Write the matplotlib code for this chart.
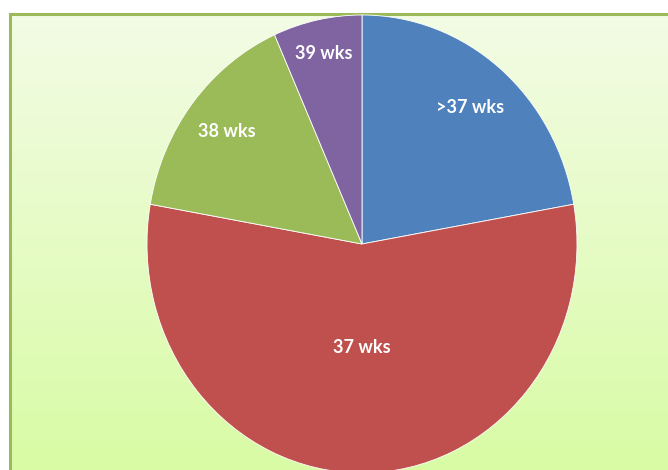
import matplotlib
matplotlib.use("Agg")
import matplotlib.pyplot as plt
import numpy as np
from matplotlib.colors import LinearSegmentedColormap

labels = [">37 wks", "37 wks", "38 wks", "39 wks"]
counts = [10, 25, 7, 3]
colors = ["#4F81BD", "#C0504D", "#9BBB59", "#8064A2"]
label_r = [0.78, 0.45, 0.80, 0.85]

W, H = 668, 470
fig = plt.figure(figsize=(W / 100, H / 100), dpi=100)
fig.patch.set_facecolor("white")

# background panel with vertical gradient
bg = fig.add_axes([0, 0, 1, 1])
bg.set_xlim(0, W)
bg.set_ylim(H, 0)
bg.axis("off")
grad = LinearSegmentedColormap.from_list("g", ["#F3FCE5", "#D8FBA4"])
bg.imshow(np.linspace(0, 1, 256).reshape(-1, 1), cmap=grad, aspect="auto",
          extent=[9, W + 5, H + 5, 14], zorder=0)
bg.plot([9.5, 9.5, W + 5], [H + 5, 13.5, 13.5], color="#9BBB59", lw=2.2,
        solid_joinstyle="miter", zorder=1)

# pie (slightly taller than wide, as in the original)
cx, cy, rx, ry = 362, 244, 215, 229
ax = fig.add_axes([(cx - rx) / W, (H - cy - ry) / H, 2 * rx / W, 2 * ry / H])
ax.patch.set_visible(False)
wedges, _ = ax.pie(counts, colors=colors, startangle=90, counterclock=False,
                   frame=True, wedgeprops=dict(edgecolor="white", linewidth=0.6))
ax.set_xlim(-1, 1)
ax.set_ylim(-1, 1)
ax.set_aspect("auto")
ax.axis("off")
for w in wedges:
    w.set_clip_on(False)

for w, lab, r in zip(wedges, labels, label_r):
    a = np.deg2rad((w.theta1 + w.theta2) / 2)
    ax.text(r * np.cos(a), r * np.sin(a), lab, ha="center", va="center",
            color="white", fontsize=13, fontweight="bold", family="Lato")

fig.savefig("out.png", dpi=100)
